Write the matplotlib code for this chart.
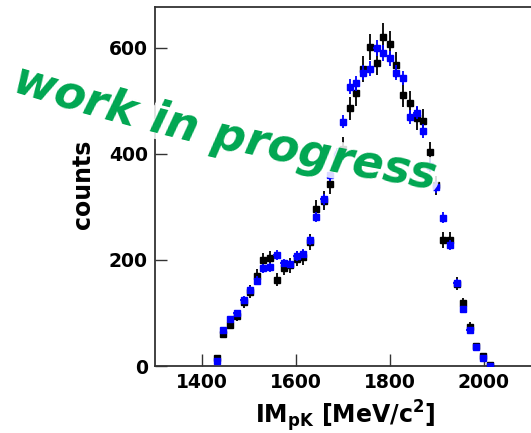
import numpy as np
import matplotlib
matplotlib.use('Agg')
import matplotlib.pyplot as plt
import matplotlib.patheffects as pe
from matplotlib.font_manager import FontProperties, findfont
from matplotlib.ft2font import FT2Font

plt.rcParams['mathtext.fontset'] = 'custom'
plt.rcParams['mathtext.rm'] = 'DejaVu Sans:bold'
plt.rcParams['mathtext.bf'] = 'DejaVu Sans:bold'

# Bin centres [MeV/c^2]
mass = [1432, 1446, 1460, 1474, 1489, 1503, 1517, 1531, 1545, 1559, 1574,
        1588, 1602, 1616, 1630, 1644, 1659, 1673, 1687, 1701, 1715, 1729,
        1743, 1758, 1772, 1786, 1800, 1814, 1828, 1843, 1857, 1871, 1885,
        1899, 1913, 1928, 1942, 1956, 1970, 1984, 1998, 2013]

# Black data points
black_counts = [15, 60, 78, 94, 120, 140, 170, 199, 203, 163, 185,
                190, 202, 205, 233, 296, 312, 343, 390, 410, 486, 514,
                560, 602, 572, 620, 607, 568, 511, 496, 467, 462, 403,
                341, 238, 238, 155, 118, 74, 38, 19, 2]
black_err = [4, 8, 9, 10, 11, 12, 13, 14, 14, 13, 14,
             14, 14, 14, 15, 17, 18, 19, 20, 21, 22, 23,
             24, 25, 24, 26, 25, 24, 23, 22, 22, 22, 20,
             18, 15, 15, 12, 11, 9, 6, 4, 2]

# Blue data points
blue_counts = [10, 67, 88, 100, 125, 143, 161, 184, 186, 209, 194,
               192, 207, 212, 237, 281, 314, 360, 400, 461, 527, 533,
               553, 561, 599, 590, 580, 553, 543, 469, 478, 443, 378,
               338, 280, 228, 157, 107, 67, 36, 16, 0]
blue_err = [2, 5, 6, 6, 7, 7, 8, 8, 8, 9, 8,
            8, 9, 9, 9, 10, 11, 11, 12, 13, 14, 14,
            14, 14, 15, 15, 14, 14, 14, 13, 13, 13, 12,
            11, 10, 9, 8, 6, 5, 4, 3, 1]
half_bin = 7

xticks = [1400, 1600, 1800, 2000]
yticks = [0, 200, 400, 600]

W, H = 531, 433
fig = plt.figure(figsize=(W / 100, H / 100), dpi=100)
ax = fig.add_axes([154.8 / W, 67 / H, 376 / W, 359 / H])

font = 'DejaVu Sans'

# Data
ax.errorbar(mass, black_counts, yerr=black_err, xerr=4, fmt='s', color='black',
            markersize=4.3, elinewidth=1.3, capsize=0, zorder=3)
ax.errorbar(mass, blue_counts, yerr=blue_err, xerr=half_bin, fmt='s', color='#0000ff',
            markersize=4.8, elinewidth=1.3, capsize=0, zorder=4)

ax.set_xlim(1300, 2100)
ax.set_ylim(0, 677)
ax.set_xticks(xticks)
ax.set_yticks(yticks)
ax.tick_params(direction='in', length=8.6, width=1, colors='#333333', pad=5,
               labelsize=13.5, labelcolor='black')
for lab in ax.get_xticklabels() + ax.get_yticklabels():
    lab.set_fontfamily(font)
    lab.set_fontweight('bold')

for side in ('left', 'bottom', 'top'):
    ax.spines[side].set_color('#333333')
    ax.spines[side].set_linewidth(1.3)
ax.spines['right'].set_visible(False)

ax.set_ylabel('counts', fontsize=17, fontweight='bold', fontfamily=font)
ax.yaxis.set_label_coords(-0.159, 0.507)
ax.set_xlabel(r'IM$_{\mathbf{pK}}$ [MeV/c$^{\mathbf{2}}$]', fontsize=17,
              fontweight='bold', fontfamily=font)
ax.xaxis.set_label_coords(0.506, -0.09)

#--------------------------- curved watermark ---------------------------#
label = 'work in progress'
size = 33
fp = FontProperties(family=font, weight='bold', style='oblique', size=size)
ft = FT2Font(findfont(fp))
ft.set_size(size, 100)  # advances in pixels

sx, sy = 10, H - 92       # baseline start (pixels, y up)
a0 = np.radians(-17)
kappa = np.radians(8) / 436

def arc_point(s):
    a = a0 + kappa * s
    x = sx + (np.sin(a) - np.sin(a0)) / kappa
    y = sy - (np.cos(a) - np.cos(a0)) / kappa
    return x, y

placed = []
s = 0.0
for c in label:
    adv = ft.load_char(ord(c)).linearHoriAdvance / 65536
    x, y = arc_point(s)
    ang = np.degrees(a0 + kappa * (s + adv / 2))
    placed.append((c, x, y, ang))
    s += adv

# white halo first, then the green letters
for c, x, y, ang in placed:
    fig.text(x / W, y / H, c, fontproperties=fp, color='white', alpha=0.85,
             rotation=ang, rotation_mode='anchor', ha='left', va='baseline',
             path_effects=[pe.withStroke(linewidth=9, foreground='white')], zorder=5)
for c, x, y, ang in placed:
    fig.text(x / W, y / H, c, fontproperties=fp, color='#00a651',
             rotation=ang, rotation_mode='anchor', ha='left', va='baseline', zorder=6)

fig.savefig('out.png', dpi=100)
